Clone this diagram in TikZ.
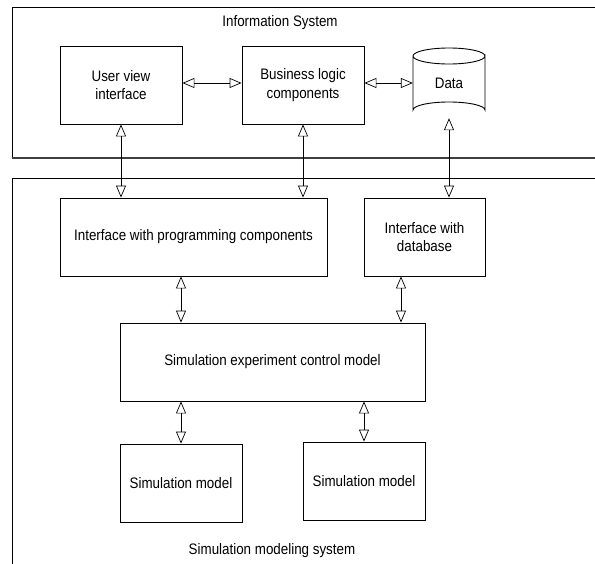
\documentclass[tikz,border=0pt]{standalone}
\usepackage{fontspec}
\setmainfont{Liberation Sans}[FakeStretch=0.88]
\usetikzlibrary{arrows.meta}
\tikzset{
  blk/.style={draw, line width=0.9pt, inner sep=0pt, align=center,
    font=\fontsize{15.2}{18.5}\selectfont},
  lbl/.style={inner sep=0pt, font=\fontsize{15.2}{18.5}\selectfont},
  dar/.style={line width=0.7pt,
    {Triangle[open, length=12pt, width=10pt]}-{Triangle[open, length=12pt, width=10pt]}},
}
\begin{document}
\begin{tikzpicture}[x=1pt, y=-1pt]
\useasboundingbox (0,0) rectangle (595,563);
\fill[white] (0,0) rectangle (595,563);

% container frames
\draw[line width=0.9pt] (620,7) -- (12,7) -- (12,158);
\draw[line width=1.8pt, black!75] (11.6,158) -- (620,158);
\draw[line width=0.9pt] (620,178) -- (12,178) -- (12,580);
\node[lbl] (istitle) at (280,23) {Information System};
\node[lbl] (smtitle) at (272,551) {Simulation modeling system};

% information system blocks
\node[blk, minimum width=122pt, minimum height=78pt] (uvi) at (121,85) {User view\\interface};
\node[blk, minimum width=122pt, minimum height=78pt] (bl) at (303,85) {Business logic\\components};
\node[lbl, minimum width=72pt, minimum height=70pt] (data) at (449,83) {Data};
\draw[line width=0.9pt] (413,56) -- (413,110) arc[start angle=180, end angle=360, x radius=36, y radius=8]
  -- (485,56) arc[start angle=0, end angle=360, x radius=36, y radius=8];

% simulation modeling blocks
\node[blk, minimum width=267pt, minimum height=78pt] (ipc) at (193.5,237) {Interface with programming components};
\node[blk, minimum width=121pt, minimum height=78pt] (idb) at (424.5,237) {Interface with\\database};
\node[blk, minimum width=305pt, minimum height=78pt] (secm) at (272.5,362) {Simulation experiment control model};
\node[blk, minimum width=122pt, minimum height=78pt] (sm1) at (181,483) {Simulation model};
\node[blk, minimum width=122pt, minimum height=78pt] (sm2) at (364,481) {Simulation model};

% connectors
\draw[dar] (uvi.east |- data.west) -- (bl.west |- data.west);
\draw[dar] (bl.east |- data.west) -- (data.west);
\draw[dar] (uvi.south) -- (uvi.south |- ipc.north);
\draw[dar] (bl.south) -- (bl.south |- ipc.north);
\draw[dar] (data.south) -- (data.south |- idb.north);
\draw[dar] (ipc.south -| sm1.north) -- (secm.north -| sm1.north);
\draw[dar] ([xshift=-23.5pt]idb.south) -- ([xshift=-23.5pt]idb.south |- secm.north);
\draw[dar] (secm.south -| sm1.north) -- (sm1.north);
\draw[dar] (secm.south -| sm2.north) -- (sm2.north);
\end{tikzpicture}
\end{document}
